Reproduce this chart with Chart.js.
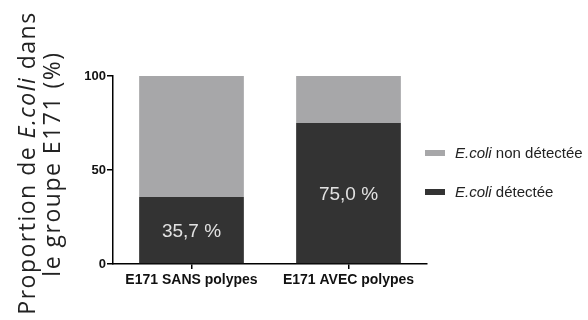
<!DOCTYPE html>
<html>
<head>
<meta charset="utf-8">
<script src="https://cdn.jsdelivr.net/npm/chart.js"></script>
<style>
  html, body { margin: 0; padding: 0; background: #fff; }
  #wrap { width: 588px; height: 320px; }
</style>
</head>
<body>
<div id="wrap"><canvas id="chart" width="588" height="320"></canvas></div>
<script>
// groups and proportions (%)
const categories = ['E171 SANS polypes', 'E171 AVEC polypes'];
const detected = [35.7, 75.0];
const notDetected = [64.3, 25.0];
const valueLabels = ['35,7 %', '75,0 %'];
const yTicks = [0, 50, 100];

const DARK = '#333333';
const LIGHT = '#a7a7a9';
const ARIAL = '"Liberation Sans", Arial, sans-serif';

// draw "E.coli" in italic followed by plain text
function drawMixed(ctx, parts, x, y, size, family) {
  let cx = x;
  parts.forEach(p => {
    ctx.font = (p.italic ? 'italic ' : '') + size + 'px ' + family;
    ctx.fillText(p.text, cx, y);
    cx += ctx.measureText(p.text).width;
  });
  return cx - x;
}
function mixedWidth(ctx, parts, size, family) {
  let w = 0;
  parts.forEach(p => {
    ctx.font = (p.italic ? 'italic ' : '') + size + 'px ' + family;
    w += ctx.measureText(p.text).width;
  });
  return w;
}

const extras = {
  id: 'extras',
  afterDatasetsDraw(chart) {
    const ctx = chart.ctx;
    // value labels inside dark bars
    const meta = chart.getDatasetMeta(0);
    ctx.save();
    ctx.fillStyle = '#e2e2e2';
    ctx.font = '19px ' + ARIAL;
    ctx.textAlign = 'center';
    ctx.textBaseline = 'middle';
    meta.data.forEach((bar, i) => {
      ctx.fillText(valueLabels[i], bar.x, (bar.y + bar.base) / 2 + 2);
    });
    ctx.restore();

    // legend (top: non détectée, bottom: détectée)
    ctx.save();
    ctx.textBaseline = 'middle';
    const items = [chart.data.datasets[1], chart.data.datasets[0]];
    items.forEach((ds, i) => {
      const y = 153 + i * 39;
      ctx.fillStyle = ds.backgroundColor;
      ctx.fillRect(425, y - 3, 20, 6);
      ctx.fillStyle = '#222';
      drawMixed(ctx, [
        { text: 'E.coli', italic: true },
        { text: ds.label.replace('E.coli', '') }
      ], 455, y + 1, 15, ARIAL);
    });
    ctx.restore();

    // rotated y-axis title in two lines
    ctx.save();
    ctx.fillStyle = '#222';
    ctx.textBaseline = 'alphabetic';
    ctx.letterSpacing = '1.5px';
    const fam = '"Open Sans", Lato, sans-serif';
    const size = 23;
    const lines = [
      [{ text: 'Proportion de ' }, { text: 'E.coli', italic: true }, { text: ' dans' }],
      [{ text: 'le groupe E171 (%)' }]
    ];
    [[35, 163], [60, 164]].forEach(([bx, cy], i) => {
      ctx.save();
      ctx.translate(bx, cy);
      ctx.rotate(-Math.PI / 2);
      const w = mixedWidth(ctx, lines[i], size, fam);
      drawMixed(ctx, lines[i], -w / 2, 0, size, fam);
      ctx.restore();
    });
    ctx.restore();
  }
};

new Chart(document.getElementById('chart').getContext('2d'), {
  type: 'bar',
  data: {
    labels: categories,
    datasets: [
      { label: 'E.coli détectée', data: detected, backgroundColor: DARK, borderWidth: 0 },
      { label: 'E.coli non détectée', data: notDetected, backgroundColor: LIGHT, borderWidth: 0 }
    ]
  },
  options: {
    responsive: false,
    animation: false,
    layout: { padding: { left: 0, right: 161, top: 76, bottom: 0 } },
    datasets: { bar: { barPercentage: 0.667, categoryPercentage: 1 } },
    plugins: { legend: { display: false }, tooltip: { enabled: false } },
    scales: {
      x: {
        stacked: true,
        afterFit: s => { s.height = 56; },
        grid: { drawOnChartArea: false, drawTicks: true, tickLength: 5, color: '#000', lineWidth: 1.5, offset: false },
        border: { color: '#000', width: 1.5 },
        ticks: { color: '#111', font: { family: ARIAL, size: 14, weight: 'bold' }, padding: 3 }
      },
      y: {
        stacked: true,
        min: 0,
        max: 100,
        afterFit: s => { s.width = 113; },
        afterBuildTicks: s => { s.ticks = yTicks.map(v => ({ value: v })); },
        grid: { drawOnChartArea: false, drawTicks: true, tickLength: 6, color: '#000', lineWidth: 1.5 },
        border: { color: '#000', width: 1.5 },
        ticks: { color: '#111', font: { family: ARIAL, size: 13, weight: 'bold' }, padding: 1 }
      }
    }
  },
  plugins: [extras]
});
</script>
</body>
</html>
